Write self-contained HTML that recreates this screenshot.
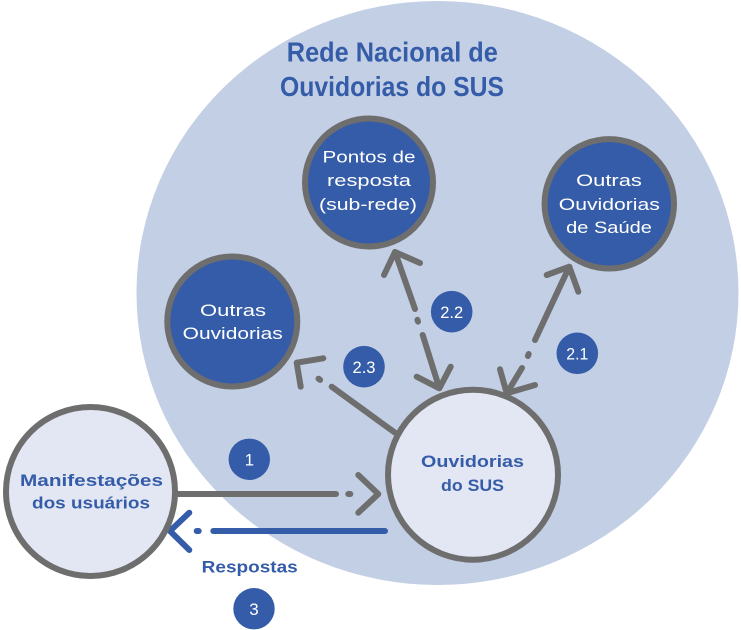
<!DOCTYPE html>
<html>
<head>
<meta charset="utf-8">
<style>
html,body{margin:0;padding:0;background:#fff;}
svg{display:block;}
text{font-family:"Liberation Sans",sans-serif;}
</style>
</head>
<body>
<svg width="741" height="630" viewBox="0 0 741 630" xmlns="http://www.w3.org/2000/svg">
  <!-- big network ellipse -->
  <ellipse cx="437.5" cy="293" rx="301" ry="292" fill="#c2cfe4"/>

  <!-- title -->
  <g fill="#355ca8" font-weight="bold" font-size="28" text-anchor="middle">
    <text x="392.3" y="61.7" textLength="211" lengthAdjust="spacingAndGlyphs">Rede Nacional de</text>
    <text x="392" y="96" textLength="224" lengthAdjust="spacingAndGlyphs">Ouvidorias do SUS</text>
  </g>

  <!-- connectors (gray) -->
  <g stroke="#6e6e6e" stroke-width="6" stroke-linecap="round" stroke-linejoin="round" fill="none">
    <!-- 2.2 -->
    <line x1="395" y1="252" x2="415" y2="309"/>
    <line x1="417.4" y1="319.8" x2="418" y2="321.6"/>
    <line x1="422.7" y1="335" x2="439.3" y2="388"/>
    <polyline points="384,275 395,252 420,263"/>
    <polyline points="416.7,376.7 439.3,388.3 450.7,366.7"/>
    <!-- 2.1 -->
    <line x1="569.3" y1="266.7" x2="535" y2="340"/>
    <line x1="528.7" y1="354" x2="527.9" y2="356"/>
    <line x1="522" y1="368" x2="506.7" y2="393.3"/>
    <polyline points="546.7,275 569.3,266.7 578.3,291.7"/>
    <polyline points="500,369.3 506.7,393.3 535,385"/>
    <!-- 2.3 -->
    <line x1="395" y1="432.7" x2="331.7" y2="386.7"/>
    <line x1="320.1" y1="379.9" x2="318.5" y2="378.7"/>
    <polyline points="323.3,358.3 296.7,362.7 300.7,386.7"/>
    <!-- 1 -->
    <line x1="171.7" y1="494" x2="336" y2="494"/>
    <line x1="348.3" y1="494" x2="350.3" y2="494"/>
    <polyline points="358.3,475 378.3,494 358.3,512.7"/>
  </g>
  <!-- 3 (blue) -->
  <g stroke="#355ca8" stroke-width="6" stroke-linecap="round" stroke-linejoin="round" fill="none">
    <line x1="385" y1="531" x2="213.3" y2="531"/>
    <line x1="196.7" y1="531" x2="198.7" y2="531"/>
    <polyline points="189.3,512.7 170,531 189.3,550"/>
  </g>

  <!-- blue nodes -->
  <g stroke="#6e6e6e" stroke-width="6" fill="#355ca8">
    <circle cx="369" cy="182.5" r="64"/>
    <circle cx="609.3" cy="203.8" r="64.7"/>
    <circle cx="232.3" cy="321.5" r="65"/>
  </g>
  <!-- light nodes -->
  <g stroke="#6e6e6e" stroke-width="6" fill="#e2e7f3">
    <circle cx="473" cy="474.7" r="85"/>
    <circle cx="90.5" cy="491.5" r="84.5"/>
  </g>

  <!-- white node labels -->
  <g fill="#ffffff" font-size="16.5" text-anchor="middle">
    <text x="369" y="162.7" textLength="93" lengthAdjust="spacingAndGlyphs">Pontos de</text>
    <text x="369" y="186" textLength="84" lengthAdjust="spacingAndGlyphs">resposta</text>
    <text x="368" y="210" textLength="98" lengthAdjust="spacingAndGlyphs">(sub-rede)</text>

    <text x="609" y="186" textLength="65.7" lengthAdjust="spacingAndGlyphs">Outras</text>
    <text x="609.3" y="210" textLength="101" lengthAdjust="spacingAndGlyphs">Ouvidorias</text>
    <text x="609" y="233" textLength="85.7" lengthAdjust="spacingAndGlyphs">de Saúde</text>

    <text x="233" y="316" textLength="66" lengthAdjust="spacingAndGlyphs">Outras</text>
    <text x="232.7" y="339" textLength="100" lengthAdjust="spacingAndGlyphs">Ouvidorias</text>
  </g>

  <!-- bold blue labels -->
  <g fill="#355ca8" font-weight="bold" font-size="16.5" text-anchor="middle">
    <text x="472.5" y="467" textLength="103" lengthAdjust="spacingAndGlyphs">Ouvidorias</text>
    <text x="472.5" y="491" textLength="63" lengthAdjust="spacingAndGlyphs">do SUS</text>
    <text x="91.5" y="486" textLength="143" lengthAdjust="spacingAndGlyphs">Manifestações</text>
    <text x="91" y="508.7" textLength="118" lengthAdjust="spacingAndGlyphs">dos usuários</text>
    <text x="249.7" y="572.3" textLength="96" lengthAdjust="spacingAndGlyphs">Respostas</text>
  </g>

  <!-- number badges -->
  <g fill="#355ca8">
    <circle cx="249.3" cy="459.3" r="20.7"/>
    <circle cx="254" cy="608.7" r="20.7"/>
    <circle cx="451.7" cy="311.7" r="20.8"/>
    <circle cx="577.3" cy="353.3" r="20.8"/>
    <circle cx="364" cy="366.7" r="20.8"/>
  </g>
  <g fill="#ffffff" font-size="17" text-anchor="middle">
    <text x="249.3" y="465.5">1</text>
    <text x="254" y="614.9">3</text>
    <text x="451.7" y="317.9" textLength="23" lengthAdjust="spacingAndGlyphs">2.2</text>
    <text x="577.3" y="359.5" textLength="22" lengthAdjust="spacingAndGlyphs">2.1</text>
    <text x="364" y="372.9" textLength="23" lengthAdjust="spacingAndGlyphs">2.3</text>
  </g>
</svg>
</body>
</html>
